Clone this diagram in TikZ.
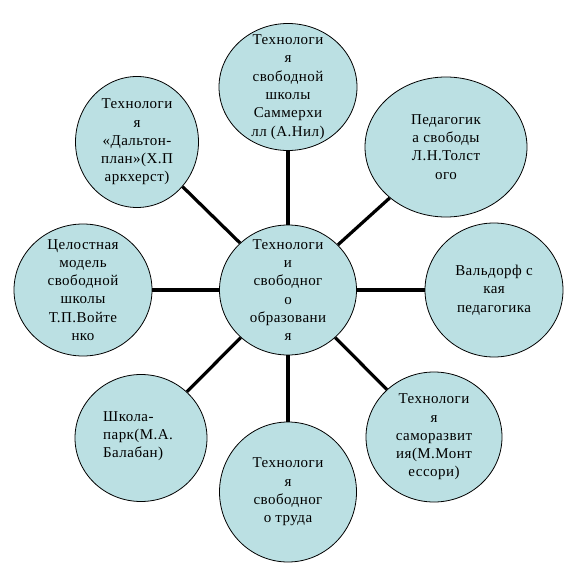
\documentclass[tikz,border=0pt]{standalone}
\usepackage{fontspec}
\setmainfont{Liberation Serif}[LetterSpace=3]
\usetikzlibrary{shapes.geometric}
\definecolor{bubfill}{RGB}{187,224,227}
\tikzset{
  bub/.style={ellipse, draw=black, line width=0.8pt, fill=bubfill, inner sep=0pt},
  txt/.style={align=center, inner sep=0pt, font={\fontsize{15}{18.3}\selectfont}},
  txtl/.style={align=left, inner sep=0pt, font={\fontsize{15}{18.3}\selectfont}},
  conn/.style={line width=3.2pt, black}
}
\begin{document}
\begin{tikzpicture}[x=1pt,y=-1pt]
\useasboundingbox (0,0) rectangle (577,577);
\node[bub, minimum width=137, minimum height=130] (c)  at (288,290) {};
\node[bub, minimum width=138, minimum height=127] (t)  at (288,87) {};
\node[bub, minimum width=162, minimum height=140] (tr) at (446,147) {};
\node[bub, minimum width=138, minimum height=134] (r)  at (494,290) {};
\node[bub, minimum width=136, minimum height=130] (br) at (434,437) {};
\node[bub, minimum width=137, minimum height=140] (b)  at (288,492) {};
\node[bub, minimum width=132, minimum height=127] (bl) at (141,438) {};
\node[bub, minimum width=138, minimum height=132] (l)  at (83,290) {};
\node[bub, minimum width=123, minimum height=131] (tl) at (137,142) {};

\draw[conn] (c) -- (t);
\draw[conn] (c) -- (tr);
\draw[conn] (c) -- (r);
\draw[conn] (c) -- (br);
\draw[conn] (c) -- (b);
\draw[conn] (c) -- (bl);
\draw[conn] (c) -- (l);
\draw[conn] (c) -- (tl);

\node[txt] (ct)  at (288,290) {Технологи\\и\\свободног\\о\\образовани\\я};
\node[txt] (tt)  at (288,87) {Технологи\\я\\свободной\\школы\\Саммерхи\\лл (А.Нил)};
\node[txt] (trt) at (446,147) {Педагогик\\а свободы\\Л.Н.Толст\\ого};
\node[txt] (rt)  at (494,290) {Вальдорф с\\кая\\педагогика};
\node[txt] (brt) at (434,437) {Технологи\\я\\саморазвит\\ия(М.Монт\\ессори)};
\node[txt] (bt)  at (288,492) {Технологи\\я\\свободног\\о труда};
\node[txtl, anchor=west] (blt) at (103,436) {Школа-\\парк(М.А.\\Балабан)};
\node[txt] (lt)  at (83,290) {Целостная\\модель\\свободной\\школы\\Т.П.Войте\\нко};
\node[txt] (tlt) at (137,142) {Технологи\\я\\«Дальтон-\\план»(Х.П\\аркхерст)};
\end{tikzpicture}
\end{document}
